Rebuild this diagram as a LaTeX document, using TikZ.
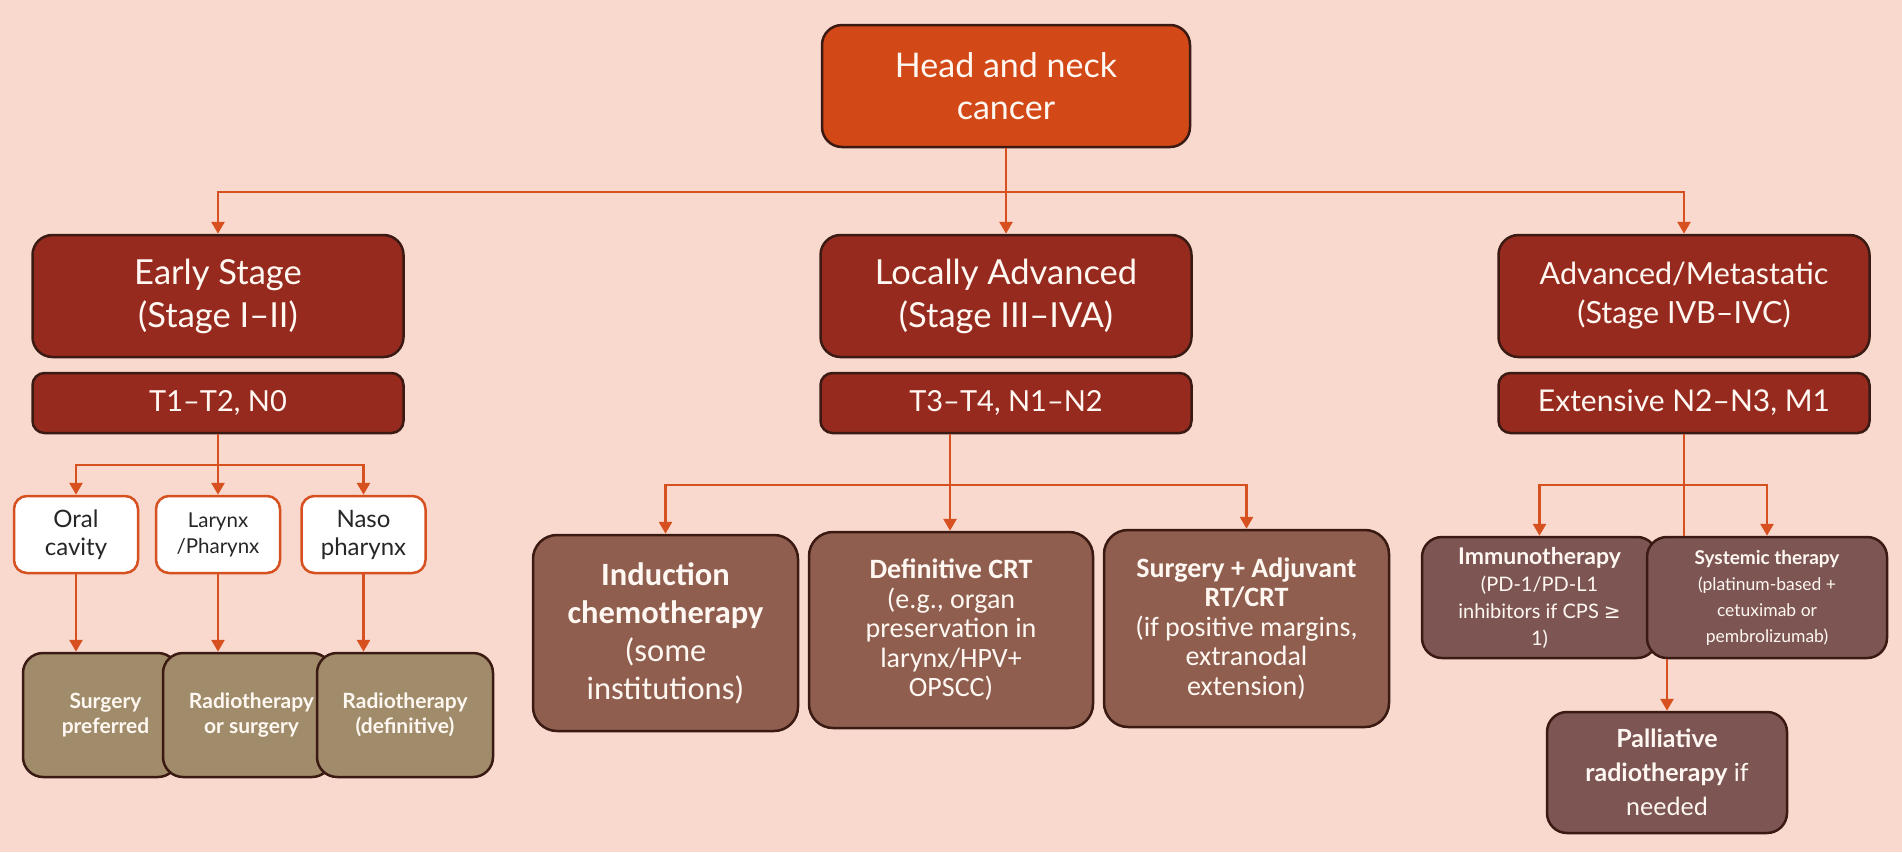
\documentclass[tikz,border=0pt]{standalone}
\usepackage{fontspec}
\setmainfont{Lato}
\newfontfamily\narrowfont{Carlito}
\newfontfamily\symfont{DejaVu Sans}
\usetikzlibrary{arrows.meta}
\definecolor{bgc}{HTML}{F9D9CD}
\definecolor{headc}{HTML}{D24817}
\definecolor{stagec}{HTML}{972A1E}
\definecolor{leftc}{HTML}{A08C6A}
\definecolor{midc}{HTML}{8F5E4F}
\definecolor{rightc}{HTML}{7D5654}
\definecolor{linec}{HTML}{D65020}
\definecolor{borderc}{HTML}{3A1A12}
\definecolor{txtc}{HTML}{FFF8F2}
\tikzset{
  box/.style={rectangle, rounded corners=20pt, draw=borderc, line width=2.5pt, inner sep=0pt, align=center, text=txtc},
  headbox/.style={box, fill=headc, minimum width=368pt, minimum height=122pt, font=\fontsize{34}{42}\selectfont},
  stagebox/.style={box, fill=stagec, minimum width=371pt, minimum height=122pt, font=\fontsize{34.5}{43}\selectfont},
  tnmbox/.style={box, fill=stagec, rounded corners=12pt, minimum width=371pt, minimum height=60pt, font=\fontsize{29}{36}\selectfont},
  sitebox/.style={box, fill=white, draw=linec, line width=2.5pt, rounded corners=13pt, text=black!85, minimum width=124pt, minimum height=77pt, font=\fontsize{24}{28}\selectfont},
  leftbox/.style={box, fill=leftc, minimum height=124pt, font=\fontsize{21}{25}\selectfont\bfseries},
  midbox/.style={box, fill=midc, rounded corners=24pt, font=\narrowfont},
  rightbox/.style={box, fill=rightc, rounded corners=20pt, minimum height=121pt, minimum width=238pt},
  conn/.style={draw=linec, line width=2.8pt},
  arr/.style={conn, -{Triangle[length=12pt,width=13pt]}}
}
\begin{document}
\begin{tikzpicture}[x=1pt,y=-1pt]
\useasboundingbox[fill=bgc] (0,0) rectangle (1902,852);

% level 0
\node[headbox] (head) at (1006,86) {Head and neck\\cancer};

% level 1
\node[stagebox] (early) at (218,296) {Early Stage\\(Stage I–II)};
\node[stagebox] (local) at (1006,296) {Locally Advanced\\(Stage III–IVA)};
\node[stagebox, font=\fontsize{30.5}{39}\selectfont] (adv) at (1684,296) {Advanced/Metastatic\\(Stage IVB–IVC)};

\node[tnmbox] (t12) at (218,403) {T1–T2, N0};
\node[tnmbox] (t34) at (1006,403) {T3–T4, N1–N2};
\node[tnmbox, font=\fontsize{30}{34}\selectfont] (ext) at (1684,403) {Extensive N2–N3, M1};

% junctions
\coordinate (j1) at (1006,192);
\coordinate (j2) at (218,465);
\coordinate (j3) at (950,485);
\coordinate (j4) at (1684,485);

% left branch nodes
\node[sitebox] (oral) at (76,534.5) {Oral\\cavity};
\node[sitebox, font=\fontsize{20.5}{26}\selectfont] (lar) at (218,534.5) {Larynx\\/Pharynx};
\node[sitebox] (naso) at (363.5,534.5) {Naso\\pharynx};

\node[leftbox, minimum width=155pt] (s1) at (100.5,715) {\hspace*{10pt}Surgery\\\hspace*{10pt}preferred};
\node[leftbox, minimum width=169pt] (s2) at (247.5,715) {\hspace*{8pt}Radiotherapy\\\hspace*{8pt}or surgery};
\node[leftbox, minimum width=176pt] (s3) at (405,715) {Radiotherapy\\(definitive)};

% middle branch nodes
\node[midbox, minimum width=265pt, minimum height=196pt, font=\narrowfont\fontsize{32.5}{38}\selectfont] (ind) at (665.5,633)
  {\textbf{Induction}\\\textbf{chemotherapy}\\(some\\institutions)};
\node[midbox, minimum width=284pt, minimum height=196pt, font=\narrowfont\fontsize{28}{29.5}\selectfont] (def) at (951,630)
  {\textbf{Definitive CRT}\\(e.g., organ\\preservation in\\larynx/HPV+\\OPSCC)};
\node[midbox, minimum width=285pt, minimum height=197pt, font=\narrowfont\fontsize{28}{29.5}\selectfont] (surg) at (1246.5,628.5)
  {\textbf{Surgery + Adjuvant}\\\textbf{RT/CRT}\\(if positive margins,\\extranodal\\extension)};

% right branch nodes
\node[rightbox, minimum width=235pt, font=\fontsize{20}{27}\selectfont] (imm) at (1539.5,597.5)
  {{\fontsize{23}{27}\selectfont\textbf{Immunotherapy}}\\(PD-1/PD-L1\\inhibitors if CPS {\symfont ≥}\\1)};
\node[rightbox, minimum width=240pt, font=\fontsize{17.5}{26}\selectfont] (sys) at (1767,597.5)
  {{\fontsize{19}{26}\selectfont\textbf{Systemic therapy}}\\(platinum-based +\\cetuximab or\\pembrolizumab)};
\node[rightbox, minimum width=240pt, font=\fontsize{25}{34}\selectfont] (pal) at (1667,772.5)
  {\textbf{Palliative}\\\textbf{radiotherapy} if\\needed};

% connectors
\draw[conn] (head.south) -- (j1);
\draw[arr] (j1) -| (early.north);
\draw[arr] (j1) -| (adv.north);
\draw[arr] (j1) -- (local.north);

\draw[conn] (t12.south) -- (j2);
\draw[arr] (j2) -| (oral.north);
\draw[arr] (j2) -| (naso.north);
\draw[arr] (j2) -- (lar.north);
\draw[arr] (oral.south) -- (oral.south |- s1.north);
\draw[arr] (lar.south) -- (lar.south |- s2.north);
\draw[arr] (naso.south) -- (naso.south |- s3.north);

\draw[conn] (t34.south -| j3) -- (j3);
\draw[arr] (j3) -| (ind.north);
\draw[arr] (j3) -- (def.north -| j3);
\draw[arr] (j3) -| (surg.north);

\draw[conn] (ext.south) -- (j4);
\draw[arr] (j4) -| (imm.north);
\draw[arr] (j4) -| (sys.north);
\draw[conn] (j4) -- (j4 |- sys.north);
\draw[arr] (pal.north |- sys.south) -- (pal.north);
\end{tikzpicture}
\end{document}
